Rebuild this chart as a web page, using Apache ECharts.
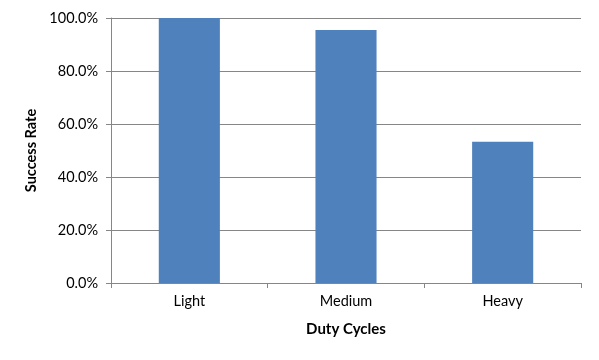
<!DOCTYPE html>
<html>
<head>
<meta charset="utf-8">
<script src="https://cdn.jsdelivr.net/npm/echarts@6/dist/echarts.min.js"></script>
<style>html,body{margin:0;padding:0;background:#fff}#c{width:599px;height:360px}</style>
</head>
<body>
<div id="c"></div>
<script>
const categories = ['Light', 'Medium', 'Heavy'];
const successRate = [100.0, 95.5, 53.3];
const yTicks = [0, 20, 40, 60, 80, 100];

const chart = echarts.init(document.getElementById('c'), null, {renderer: 'canvas'});
const font = 'Lato, "Open Sans", sans-serif';
chart.setOption({
  animation: false,
  backgroundColor: '#fff',
  grid: {left: 111, right: 18, top: 18, bottom: 77},
  xAxis: {
    type: 'category',
    data: categories,
    name: 'Duty Cycles',
    nameLocation: 'middle',
    nameGap: 39,
    nameTextStyle: {fontFamily: font, fontSize: 15, fontWeight: 'bold', color: '#000'},
    axisLine: {lineStyle: {color: '#868686', width: 1}},
    axisTick: {show: true, length: 5, lineStyle: {color: '#868686'}},
    axisLabel: {fontFamily: font, fontSize: 14.5, color: '#000', margin: 11}
  },
  yAxis: {
    type: 'value',
    min: yTicks[0],
    max: yTicks[yTicks.length - 1],
    interval: 20,
    name: 'Success Rate',
    nameLocation: 'middle',
    nameGap: 72,
    nameTextStyle: {fontFamily: font, fontSize: 14.5, fontWeight: 'bold', color: '#000'},
    axisLine: {show: true, lineStyle: {color: '#868686', width: 1}},
    axisTick: {show: true, length: 5, lineStyle: {color: '#868686'}},
    axisLabel: {fontFamily: font, fontSize: 14.5, color: '#000', margin: 13,
      formatter: v => v.toFixed(1) + '%'},
    splitLine: {show: true, lineStyle: {color: '#868686', width: 1}}
  },
  series: [{
    type: 'bar',
    data: successRate,
    barWidth: '39%',
    itemStyle: {color: '#4F81BD'}
  }]
});
</script>
</body>
</html>
